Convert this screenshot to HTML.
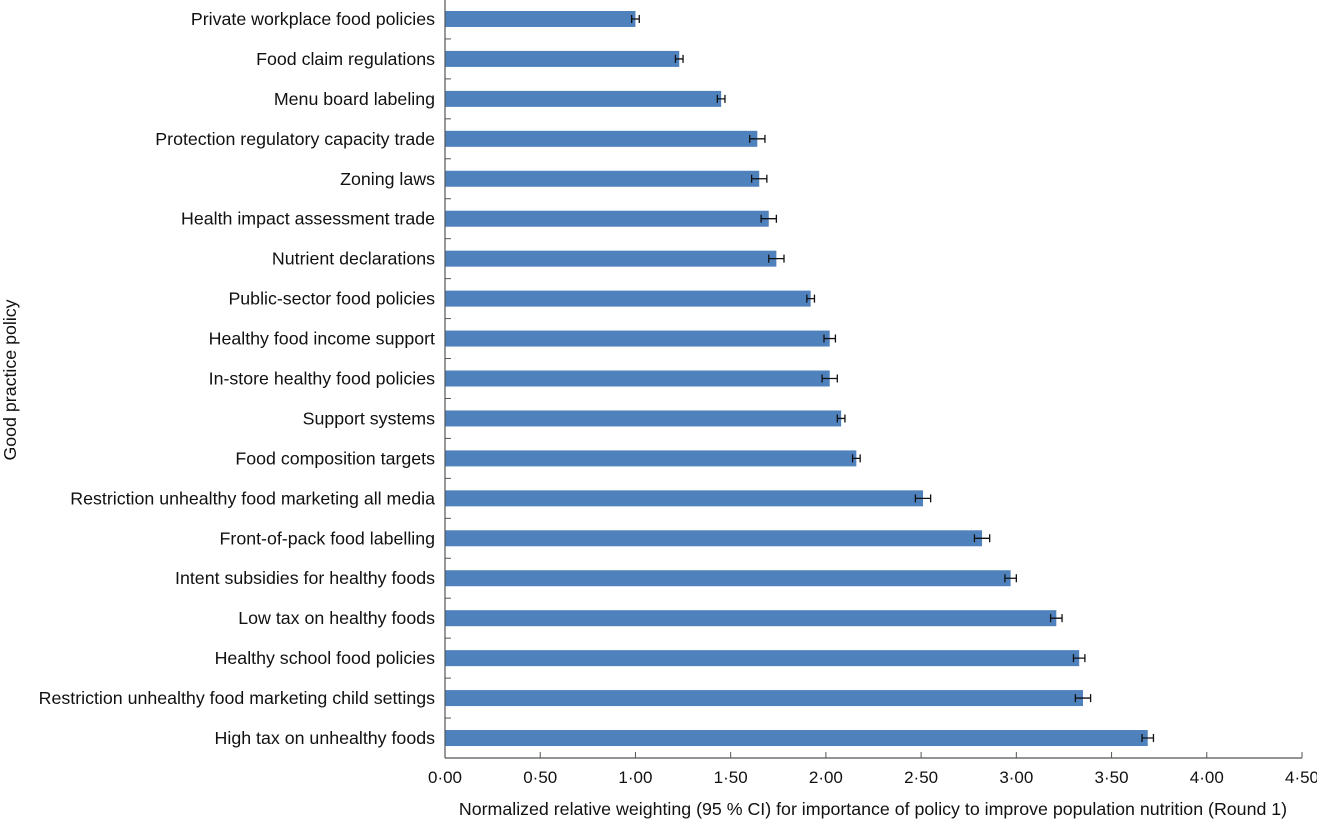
<!DOCTYPE html>
<html><head><meta charset="utf-8"><style>
body{margin:0;background:#fff;}
svg text{font-family:"Liberation Sans",Arial,sans-serif;fill:#111;}
</style></head><body>
<svg id="chart" width="1317" height="828" xmlns="http://www.w3.org/2000/svg"></svg>
<script>
const categories=["Private workplace food policies","Food claim regulations","Menu board labeling","Protection regulatory capacity trade","Zoning laws","Health impact assessment trade","Nutrient declarations","Public-sector food policies","Healthy food income support","In-store healthy food policies","Support systems","Food composition targets","Restriction unhealthy food marketing all media","Front-of-pack food labelling","Intent subsidies for healthy foods","Low tax on healthy foods","Healthy school food policies","Restriction unhealthy food marketing child settings","High tax on unhealthy foods"];
const values=[1.00,1.23,1.45,1.64,1.65,1.70,1.74,1.92,2.02,2.02,2.08,2.16,2.51,2.82,2.97,3.21,3.33,3.35,3.69];
const errors=[0.02,0.02,0.02,0.04,0.04,0.04,0.04,0.02,0.03,0.04,0.02,0.02,0.04,0.04,0.03,0.03,0.03,0.04,0.03];
const xTicks=[0,0.5,1,1.5,2,2.5,3,3.5,4,4.5];
const xTickLabels=["0·00","0·50","1·00","1·50","2·00","2·50","3·00","3·50","4·00","4·50"];
const svg=document.getElementById('chart');const NS="http://www.w3.org/2000/svg";
const x0=445,x1=1302,xmax=4.5,yTop=-1,yBot=758;
const step=(yBot-yTop)/categories.length;
const sx=v=>x0+(v/xmax)*(x1-x0);
const sy=i=>yTop+step*(i+0.5);
function mk(t,a){const e=document.createElementNS(NS,t);for(const k in a)e.setAttribute(k,a[k]);svg.appendChild(e);return e;}
categories.forEach((c,i)=>{
 const y=sy(i);
 const b=mk('rect',{x:x0,y:y-8,width:sx(values[i])-x0,height:16,fill:'#4f81bd'});
 
 
 const e=mk('path',{d:`M${sx(values[i]-errors[i])} ${y}H${sx(values[i]+errors[i])}M${sx(values[i]-errors[i])} ${y-4}v8M${sx(values[i]+errors[i])} ${y-4}v8`,stroke:'#111','stroke-width':1.3,fill:'none'});
 
 
 const t=mk('text',{x:435,y:y+6,'text-anchor':'end','font-size':17.8});t.textContent=c;
 
 
 if(i>0){mk('line',{x1:x0,x2:x0+6,y1:yTop+step*i,y2:yTop+step*i,stroke:'#555','stroke-width':1});}
});
const ya=mk('line',{x1:x0,x2:x0,y1:0,y2:yBot,stroke:'#555','stroke-width':1.2});

const xa=mk('line',{x1:x0,x2:x1,y1:yBot,y2:yBot,stroke:'#555','stroke-width':1.2});

xTicks.forEach((v,i)=>{
 mk('line',{x1:sx(v),x2:sx(v),y1:yBot,y2:yBot-6,stroke:'#555','stroke-width':1});
 const t=mk('text',{x:sx(v),y:783,'text-anchor':'middle','font-size':17});t.textContent=xTickLabels[i];
 
 
});
const xt=mk('text',{x:873,y:815,'text-anchor':'middle','font-size':17.8});xt.textContent="Normalized relative weighting (95 % CI) for importance of policy to improve population nutrition (Round 1)";

const yt=mk('text',{x:0,y:0,'text-anchor':'middle','font-size':17.8,transform:'translate(16,380) rotate(-90)'});yt.textContent="Good practice policy";

</script>
</body></html>
